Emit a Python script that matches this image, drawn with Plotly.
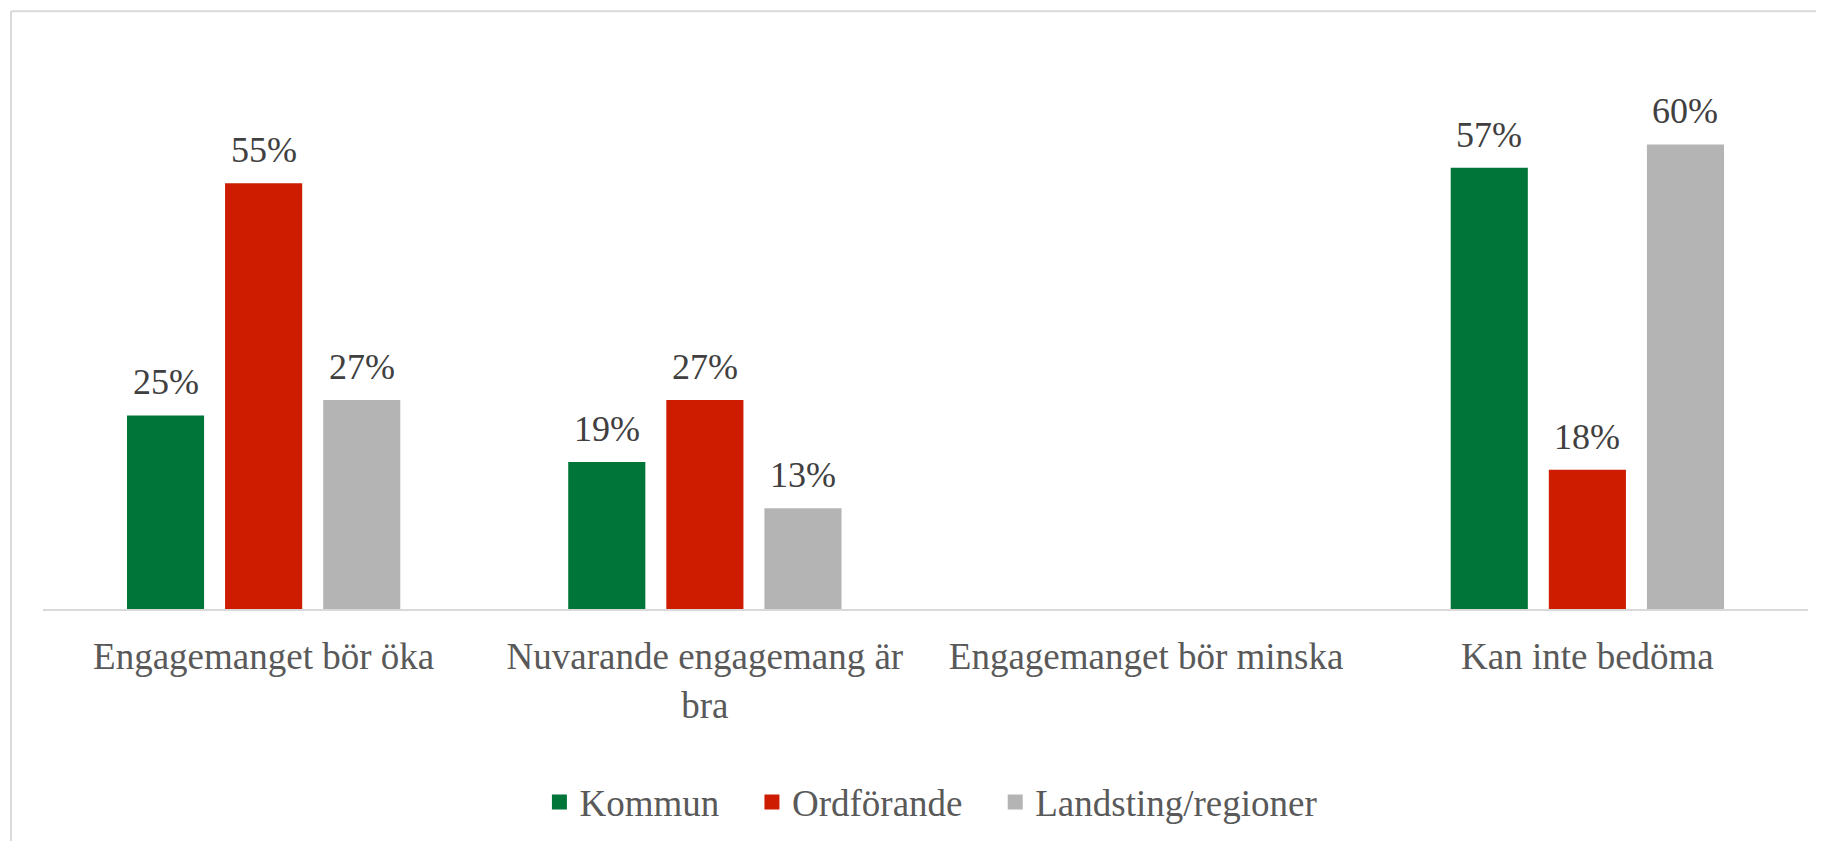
import plotly.graph_objects as go

categories = ["Engagemanget bör öka", "Nuvarande engagemang är<br>bra",
              "Engagemanget bör minska", "Kan inte bedöma"]
series_names = ["Kommun", "Ordförande", "Landsting/regioner"]
kommun = [25, 19, None, 57]
ordforande = [55, 27, None, 18]
landsting = [27, 13, None, 60]
colors = ["#007539", "#CD1C00", "#B4B4B4"]

FONT = "Liberation Serif, Times New Roman, DejaVu Serif, serif"
# page body has an 8px margin, so the figure is a bit smaller than the window
W, H = 1808, 833
L, R, T, B = 35, 8, 42, 228
BARGAP = 0.333

fig = go.Figure()
values = [kommun, ordforande, landsting]
for name, vals, col in zip(series_names, values, colors):
    fig.add_trace(go.Bar(x=categories, y=vals, name=name, marker_color=col,
                         marker_line_width=0, showlegend=False))
# legend entries with larger square swatches
for name, col in zip(series_names, colors):
    fig.add_trace(go.Scatter(x=[None], y=[None], mode="markers",
                             name=name + "\u00a0" * 3,
                             marker=dict(symbol="square", size=15, color=col)))

# value labels placed as annotations so the gap above the bars can be set
plot_w = W - L - R
slot = plot_w / len(categories) * (1 - BARGAP) / len(series_names)
annotations = []
for i, vals in enumerate(values):
    for cat, v in zip(categories, vals):
        if v is None:
            continue
        annotations.append(dict(x=cat, y=v, text=f"{v}%", showarrow=False,
                                xanchor="center", yanchor="bottom",
                                xshift=(i - 1) * slot, yshift=11,
                                font=dict(family=FONT, size=36, color="#404040")))

plot_h = H - T - B
bx = -(L - 3) / plot_w
by = 1 + (T - 3) / plot_h
fig.update_layout(
    width=W, height=H,
    margin=dict(l=L, r=R, t=T, b=B),
    paper_bgcolor="white", plot_bgcolor="white",
    barmode="group", bargap=BARGAP, bargroupgap=0.214,
    font=dict(family=FONT, color="#595959"),
    annotations=annotations,
    showlegend=True,
    legend=dict(orientation="h", x=0.511, xanchor="center", y=-0.346,
                yanchor="middle", itemsizing="trace",
                font=dict(family=FONT, size=37, color="#595959")),
    shapes=[
        dict(type="line", xref="paper", yref="paper", x0=bx, x1=1.05,
             y0=by, y1=by, line=dict(color="#d9d9d9", width=2)),
        dict(type="line", xref="paper", yref="paper", x0=bx, x1=bx,
             y0=-0.5, y1=by, line=dict(color="#d9d9d9", width=2)),
    ],
)
fig.update_xaxes(showline=True, linecolor="#d9d9d9", linewidth=2, ticks="",
                 ticklabelstandoff=14,
                 tickfont=dict(family=FONT, size=37, color="#595959"))
fig.update_yaxes(visible=False, range=[0, 72.2])

fig.write_html("out.html")
